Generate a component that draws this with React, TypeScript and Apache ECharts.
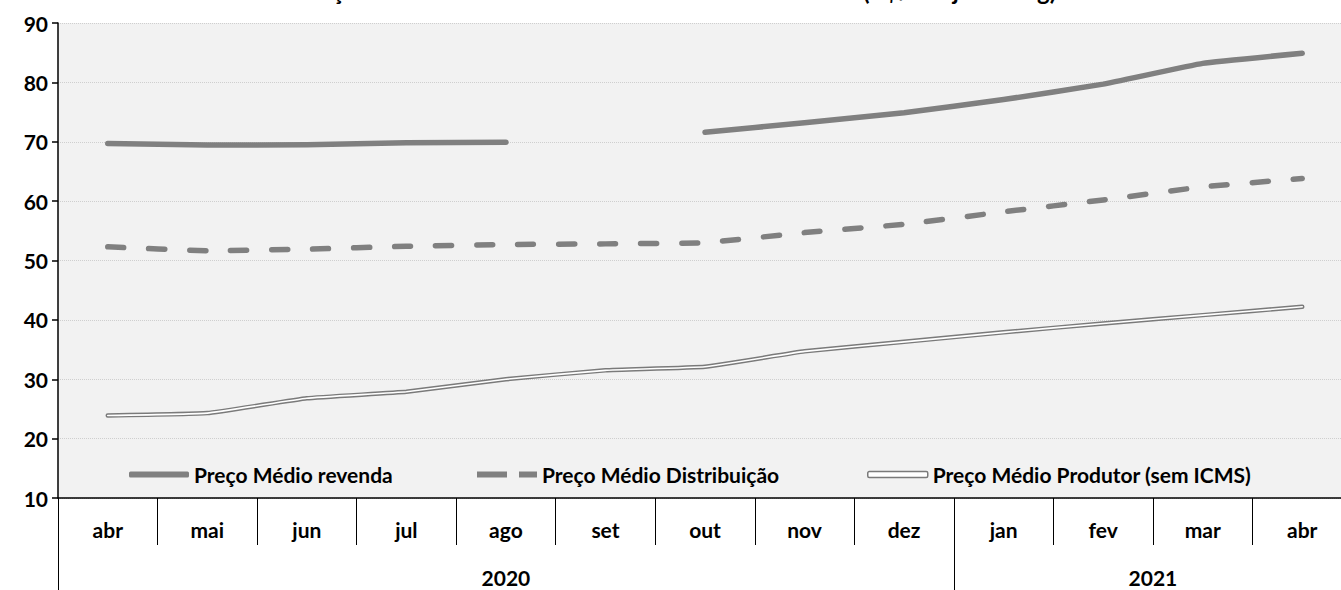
import React, { useEffect, useRef } from 'react';
import * as echarts from 'echarts';

const titleText = 'Evolução dos Valores Médios Mensais do GLP no Brasil (R$/botijão 13 kg)';
const months = ['abr', 'mai', 'jun', 'jul', 'ago', 'set', 'out', 'nov', 'dez', 'jan', 'fev', 'mar', 'abr'];
const years = ['2020', '2021'];
const yearStartIndex = [0, 9];
const seriesNames = ['Preço Médio revenda', 'Preço Médio Distribuição', 'Preço Médio Produtor (sem ICMS)'];
const revenda = [69.7, 69.45, 69.5, 69.85, 69.9, null, 71.6, 73.2, 74.9, 77.1, 79.7, 83.2, 84.9];
const distribuicao = [52.3, 51.65, 51.9, 52.4, 52.7, 52.8, 53.0, 54.7, 56.1, 58.2, 60.2, 62.4, 63.8];
const produtor = [23.9, 24.3, 26.8, 27.9, 30.0, 31.5, 32.1, 34.7, 36.3, 37.9, 39.4, 40.8, 42.2];
const yMin = 10;
const yMax = 90;
const yInterval = 10;

const CHART_W = 1360;
const CHART_H = 590;
const GRID_LEFT = 58;
const GRID_RIGHT = 8;
const GRID_TOP = 23;
const GRID_BOTTOM = 92;

export default function App() {
  const ref = useRef<HTMLDivElement>(null);
  useEffect(() => {
    const chart = echarts.init(ref.current!, null, { renderer: 'svg' });
    const font = 'Lato, "Open Sans", sans-serif';
    const gray = '#808080';
    const bandW = (CHART_W - GRID_LEFT - GRID_RIGHT) / months.length;
    const yearCenters = yearStartIndex.map((s, i) => {
      const e = i + 1 < yearStartIndex.length ? yearStartIndex[i + 1] : months.length;
      return (s + e - 1) / 2;
    });
    const yearLabelAt: Record<number, { text: string; half: boolean }> = {};
    yearCenters.forEach((c, i) => {
      yearLabelAt[Math.floor(c)] = { text: years[i], half: c % 1 !== 0 };
    });

    const fs = 21;
    const legendBase = {
      top: 459,
      itemWidth: 60,
      itemHeight: 6,
      textStyle: { fontSize: fs, fontWeight: 'bold', color: '#000', fontFamily: font },
      selectedMode: false,
    };

    chart.setOption({
      animation: false,
      title: {
        text: titleText,
        left: 268,
        top: -27,
        textStyle: { fontSize: 24, fontWeight: 'bold', color: '#000', fontFamily: font },
      },
      grid: {
        left: GRID_LEFT,
        right: GRID_RIGHT,
        top: GRID_TOP,
        bottom: GRID_BOTTOM,
        show: true,
        backgroundColor: '#f2f2f2',
        borderWidth: 0,
      },
      legend: [
        {
          ...legendBase,
          left: 124,
          data: [{ name: seriesNames[0], icon: 'roundRect', itemStyle: { color: gray } }],
        },
        {
          ...legendBase,
          left: 472,
          data: [
            {
              name: seriesNames[1],
              icon: 'path://M0,0H30V6H0Z M42,0H60V6H42Z',
              itemStyle: { color: gray },
            },
          ],
        },
        {
          ...legendBase,
          left: 862,
          data: [
            {
              name: seriesNames[2],
              icon: 'roundRect',
              itemStyle: { color: '#fff', borderColor: '#7a7a7a', borderWidth: 1.5 },
            },
          ],
        },
      ],
      xAxis: [
        {
          type: 'category',
          data: months,
          position: 'bottom',
          boundaryGap: true,
          axisLine: { show: true, lineStyle: { color: '#000', width: 1.5 } },
          axisTick: { show: true, interval: 0, length: 47, lineStyle: { color: '#000', width: 1 } },
          axisLabel: {
            interval: 0,
            margin: 21,
            fontSize: fs,
            fontWeight: 'bold',
            color: '#000',
            fontFamily: font,
          },
          splitLine: { show: false },
        },
        {
          type: 'category',
          data: months,
          position: 'bottom',
          offset: 47,
          boundaryGap: true,
          axisLine: { show: false },
          axisTick: {
            show: true,
            interval: (i: number) => yearStartIndex.includes(i),
            length: 50,
            lineStyle: { color: '#000', width: 1 },
          },
          axisLabel: {
            interval: (i: number) => yearLabelAt[i] !== undefined,
            margin: 22,
            fontSize: fs,
            fontWeight: 'bold',
            color: '#000',
            fontFamily: font,
            formatter: (_v: string, i: number) => {
              const y = yearLabelAt[i];
              if (!y) return '';
              return y.half ? '{h|' + y.text + '}' : '{n|' + y.text + '}';
            },
            rich: {
              n: { fontSize: fs, fontWeight: 'bold', color: '#000', fontFamily: font },
              h: {
                fontSize: fs,
                fontWeight: 'bold',
                color: '#000',
                fontFamily: font,
                padding: [0, 0, 0, bandW],
              },
            },
          },
          splitLine: { show: false },
        },
      ],
      yAxis: {
        type: 'value',
        min: yMin,
        max: yMax,
        interval: yInterval,
        axisLine: { show: true, lineStyle: { color: '#000', width: 1.5 } },
        axisTick: { show: true, length: 6, lineStyle: { color: '#000', width: 1.5 } },
        axisLabel: {
          margin: 10,
          fontSize: fs,
          fontWeight: 'bold',
          color: '#000',
          fontFamily: font,
        },
        splitLine: { show: true, lineStyle: { color: '#cfcfcf', type: 'dotted', width: 1 } },
      },
      series: [
        {
          name: seriesNames[2],
          type: 'line',
          data: produtor,
          symbol: 'none',
          smooth: 0.1,
          lineStyle: { color: '#7a7a7a', width: 4.5, cap: 'round', join: 'round' },
          itemStyle: { color: '#fff' },
          z: 2,
        },
        {
          name: 'produtor-inner',
          type: 'line',
          data: produtor,
          symbol: 'none',
          smooth: 0.1,
          lineStyle: { color: '#ffffff', width: 1.6, cap: 'round', join: 'round' },
          z: 3,
          silent: true,
        },
        {
          name: seriesNames[1],
          type: 'line',
          data: distribuicao,
          symbol: 'none',
          smooth: 0.1,
          lineStyle: { color: gray, width: 5.5, type: [16, 25], cap: 'round', join: 'round' },
          itemStyle: { color: gray },
          z: 4,
        },
        {
          name: seriesNames[0],
          type: 'line',
          data: revenda,
          symbol: 'none',
          smooth: 0.1,
          connectNulls: false,
          lineStyle: { color: gray, width: 5.5, cap: 'round', join: 'round' },
          itemStyle: { color: gray },
          z: 5,
        },
      ],
    });
    return () => chart.dispose();
  }, []);

  return (
    <div
      style={{
        position: 'fixed',
        left: 0,
        top: 0,
        width: 1341,
        height: 590,
        overflow: 'hidden',
        background: '#fff',
      }}
    >
      <div ref={ref} style={{ width: CHART_W, height: CHART_H }} />
    </div>
  );
}
